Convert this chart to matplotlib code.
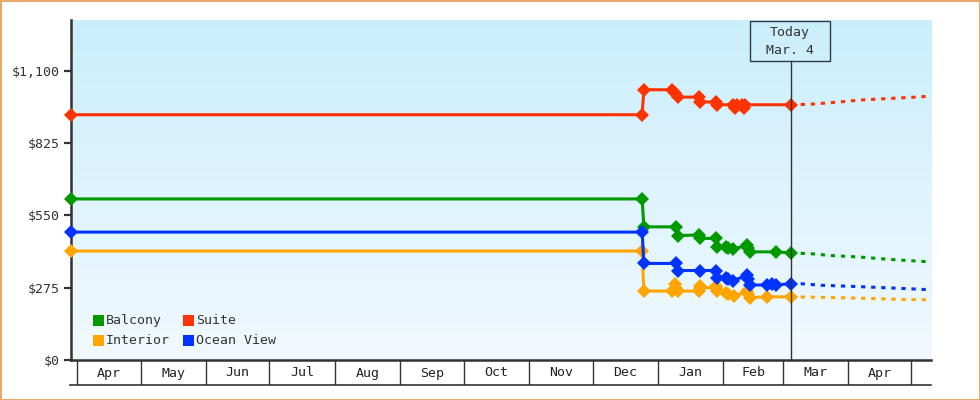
import matplotlib
matplotlib.use("Agg")
import matplotlib.pyplot as plt
import numpy as np
from matplotlib.colors import LinearSegmentedColormap
from matplotlib.patches import Rectangle
from matplotlib.lines import Line2D

plt.rcParams['font.family'] = ['DejaVu Sans Mono']

# ---- data (x = days since Apr 1) ----
series_names = ["Balcony", "Interior", "Suite", "Ocean View"]
series_colors = ["#009900", "#ffa500", "#ff3300", "#0033ff"]

balcony_days = [-3, 267.5, 268.3, 283.7, 284.3, 294.4, 295.1, 302.3, 303.1, 307.0, 308.3, 310.5,
                317.3, 317.8, 318.4, 330.7, 337.8]
balcony_price = [612, 612, 506, 506, 473, 475, 462, 462, 430, 430, 426, 422,
                 436, 426, 411, 411, 407]

interior_days = [-3, 267.5, 268.3, 281.8, 283.0, 283.7, 284.3, 294.4, 294.7, 295.1, 302.3, 302.6,
                 303.1, 307.0, 308.3, 311.0, 317.3, 317.8, 318.4, 326.8, 337.8]
interior_price = [414, 414, 262, 262, 290, 275, 262, 262, 281, 275, 275, 281,
                  262, 256, 249, 243, 262, 249, 237, 240, 240]

suite_days = [-3, 267.5, 268.3, 281.8, 283.0, 284.3, 294.4, 295.1, 302.3, 303.1, 310.5, 311.3,
              312.2, 314.6, 315.5, 316.4, 337.8]
suite_price = [932, 932, 1027, 1027, 1014, 999, 999, 982, 979, 970, 970, 958,
               970, 970, 958, 970, 970]

ocean_days = [-3, 267.5, 268.3, 283.7, 284.6, 294.7, 302.6, 303.1, 307.0, 308.3, 310.5, 317.3,
              317.8, 318.4, 326.8, 329.0, 330.7, 337.8]
ocean_price = [486, 486, 367, 367, 340, 340, 340, 310, 310, 306, 302, 322,
               306, 285, 285, 290, 285, 290]

# projections (dotted)
balcony_proj_days = [337.8, 347.3, 356.8, 370.9, 385.2, 399.4, 404.3]
balcony_proj_price = [407, 404, 397, 391, 382, 375, 373]
interior_proj_days = [337.8, 347.3, 370.9, 390.0, 404.3]
interior_proj_price = [240, 239, 235, 230, 229]
suite_proj_days = [337.8, 347.3, 361.6, 370.9, 385.2, 399.4, 404.3]
suite_proj_price = [970, 972, 981, 988, 994, 1000, 1004]
ocean_proj_days = [337.8, 342.6, 352.1, 366.3, 375.8, 390.0, 404.3]
ocean_proj_price = [290, 290, 284, 280, 277, 272, 267]

y_ticks = [0, 275, 550, 825, 1100]
y_tick_labels = ["$0", "$275", "$550", "$825", "$1,100"]

month_starts = [0, 30, 61, 91, 122, 153, 183, 214, 244, 275, 306, 334, 365, 395]
month_labels = ["Apr", "May", "Jun", "Jul", "Aug", "Sep", "Oct", "Nov", "Dec",
                "Jan", "Feb", "Mar", "Apr"]

today_day = 337.8
today_text = "Today\nMar. 4"

x_min, x_max = -3.0, 404.3
y_max = 1292

# ---- figure ----
W, H = 980, 400
fig = plt.figure(figsize=(W / 100, H / 100), dpi=100)
fig.patch.set_facecolor("white")

def fx(px):
    return px / W

def fy(py):
    return 1 - py / H

ax_l, ax_r, ax_t, ax_b = 71, 931, 20, 360
ax = fig.add_axes([fx(ax_l), fy(ax_b), fx(ax_r - ax_l), (ax_b - ax_t) / H])
ax.set_facecolor("none")

# gradient background
cmap = LinearSegmentedColormap.from_list("bg", ["#f1f9fe", "#cbeefd"])
grad = np.linspace(0, 1, 256).reshape(-1, 1)
ax.imshow(grad, extent=(0, 1, 0, 1), transform=ax.transAxes, aspect="auto",
          cmap=cmap, origin="lower", zorder=0)

series = [
    (balcony_days, balcony_price, balcony_proj_days, balcony_proj_price, series_colors[0]),
    (interior_days, interior_price, interior_proj_days, interior_proj_price, series_colors[1]),
    (ocean_days, ocean_price, ocean_proj_days, ocean_proj_price, series_colors[3]),
    (suite_days, suite_price, suite_proj_days, suite_proj_price, series_colors[2]),
]
for d, p, pd_, pp, c in series:
    ax.plot(pd_, pp, color=c, lw=2.2, dashes=(1.4, 1.9), zorder=3, solid_capstyle="butt",
            dash_capstyle="butt")
    ax.plot(d, p, color=c, lw=2.2, marker="D", markersize=6.8, markeredgewidth=0,
            zorder=4, clip_on=False)

ax.set_xlim(x_min, x_max)
ax.set_ylim(0, y_max)

# spines
for s in ["top", "right"]:
    ax.spines[s].set_visible(False)
for s in ["left", "bottom"]:
    ax.spines[s].set_color("#333333")
    ax.spines[s].set_linewidth(1.8)
ax.set_xticks([])
ax.set_yticks(y_ticks)
ax.set_yticklabels(y_tick_labels)
ax.tick_params(axis="y", length=5, width=1.6, color="#333333", pad=3,
               labelsize=9.5, labelcolor="#333333")

# today line + box
box_top, box_bot = 20, 61
ax.axvline(today_day, ymin=0, ymax=(ax_b - box_bot) / (ax_b - ax_t), color="#333333",
           lw=1.0, zorder=5)
fig.patches.append(Rectangle((fx(749.5), fy(60.5)), fx(80), (60.5 - 20.5) / H,
                             transform=fig.transFigure, fill=False,
                             edgecolor="#2b3b4b", lw=1.0, zorder=6))
tl = today_text.split("\n")
fig.text(fx(790), fy(32.5), tl[0], ha="center", va="center", fontsize=9.5, color="#333333")
fig.text(fx(790), fy(50.5), tl[1], ha="center", va="center", fontsize=9.5, color="#333333")

# legend (manual)
leg_pos = {"Balcony": (93, 315), "Suite": (183, 315), "Interior": (93, 335), "Ocean View": (183, 335)}
for name, col in zip(series_names, series_colors):
    lx, ly = leg_pos[name]
    fig.patches.append(Rectangle((fx(lx), fy(ly + 11)), fx(11), 11 / H,
                                 transform=fig.transFigure, color=col, lw=0, zorder=6))
    fig.text(fx(lx + 13), fy(ly + 5.5), name, ha="left", va="center",
             fontsize=9.5, color="#333333")

# month strip
axm = fig.add_axes([fx(ax_l), fy(385), fx(ax_r - ax_l), 24 / H])
axm.set_xlim(x_min, x_max)
axm.set_ylim(0, 1)
axm.axis("off")
for m in month_starts:
    if x_min <= m <= x_max:
        axm.plot([m, m], [0, 1], color="#333333", lw=1.0)
for i, lab in enumerate(month_labels):
    c = (month_starts[i] + month_starts[i + 1]) / 2
    axm.text(c, 0.5, lab, ha="center", va="center", fontsize=9.5, color="#222222")
fig.add_artist(Line2D([fx(70), fx(931)], [fy(385), fy(385)], transform=fig.transFigure,
                      color="#333333", lw=1.2))

# orange border
fig.patches.append(Rectangle((0.5 / W, 0.5 / H), 1 - 1 / W, 1 - 1 / H,
                             transform=fig.transFigure, fill=False,
                             edgecolor="#e8a96a", lw=1.5))

fig.savefig("out.png", dpi=100)
